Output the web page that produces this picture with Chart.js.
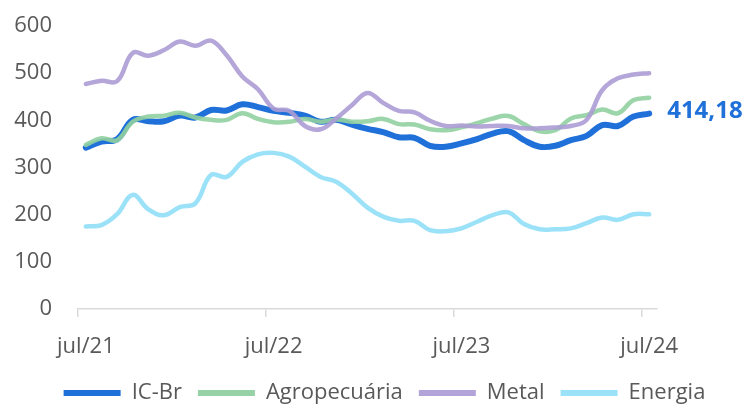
<!DOCTYPE html>
<html>
<head>
<meta charset="utf-8">
<script src="https://cdn.jsdelivr.net/npm/chart.js@4/dist/chart.umd.min.js"></script>
<style>
html,body{margin:0;padding:0;background:#fff;}
#wrap{width:751px;height:406px;position:relative;}
</style>
</head>
<body>
<div id="wrap"><canvas id="c" width="751" height="406"></canvas></div>
<script>
// Monthly categories jul/21 .. jul/24
const months = ['jan','fev','mar','abr','mai','jun','jul','ago','set','out','nov','dez'];
const categories = [];
for (let y = 21; y <= 24; y++) {
  for (let m = 0; m < 12; m++) {
    if ((y === 21 && m < 6) || (y === 24 && m > 6)) continue;
    categories.push(months[m] + '/' + y);
  }
}
const icbr = [342,355,360,401,398,398,410,406,422,421,434,428,420,416,410,397,401,391,382,375,364,363,346,344,351,360,372,377,358,344,346,358,367,390,388,408,414.18];
const agro = [348,362,358,397,408,410,416,406,401,401,415,403,396,397,403,397,402,397,398,403,392,391,381,379,385,394,404,409,392,377,379,404,411,423,415,443,448];
const metal = [477,484,483,543,537,549,567,558,569,538,493,466,425,420,388,381,404,432,458,437,420,417,399,388,389,387,388,388,383,383,385,388,401,464,489,497,500];
const energia = [175,178,201,242,211,199,216,224,284,280,312,328,331,323,302,280,270,245,215,196,187,187,167,165,171,185,199,205,180,169,169,171,182,194,189,201,201];
const yTicks = [0,100,200,300,400,500,600];

const TEXT = '#595959';
const FONT = 'Open Sans';

const lastLabel = {
  id: 'lastLabel',
  afterDatasetsDraw(chart) {
    const ds = chart.data.datasets[0];
    const i = ds.data.length - 1;
    const x = chart.scales.x.getPixelForValue(i);
    const y = chart.scales.y.getPixelForValue(ds.data[i]);
    const ctx = chart.ctx;
    ctx.save();
    ctx.font = 'bold 24px "' + FONT + '"';
    ctx.fillStyle = '#1f70d9';
    ctx.textAlign = 'left';
    ctx.textBaseline = 'middle';
    ctx.fillText(ds.data[i].toFixed(2).replace('.', ','), x + 18, y - 2);
    ctx.restore();
  }
};

// Fix the legend box size and place it where the reference has it
const legendPlace = {
  id: 'legendPlace',
  beforeInit(chart) {
    const lg = chart.legend;
    const orig = lg.fit;
    lg.fit = function () { orig.call(this); this.height = 40; };
  },
  afterLayout(chart) {
    const lg = chart.legend;
    lg.left = 18;
    lg.right = 751;
  }
};

new Chart(document.getElementById('c'), {
  type: 'line',
  data: {
    labels: categories,
    datasets: [
      {label: 'IC-Br', data: icbr, borderColor: '#1f70d9', backgroundColor: '#1f70d9', borderWidth: 6, order: 4, yAxisID: 'y'},
      {label: 'Agropecuária', data: agro, borderColor: 'rgba(145,208,160,0.9)', backgroundColor: 'rgba(150,210,165,1)', borderWidth: 4.5, order: 3, yAxisID: 'y'},
      {label: 'Metal', data: metal, borderColor: 'rgba(172,156,212,0.9)', backgroundColor: 'rgba(178,164,216,1)', borderWidth: 4.5, order: 2, yAxisID: 'y'},
      {label: 'Energia', data: energia, borderColor: 'rgba(150,224,248,0.95)', backgroundColor: 'rgba(155,226,248,1)', borderWidth: 4.5, order: 1, yAxisID: 'y'}
    ]
  },
  options: {
    responsive: false,
    animation: false,
    devicePixelRatio: 1,
    layout: {padding: {left: 0, right: 0, top: 26, bottom: 0}},
    elements: {
      point: {radius: 0, hoverRadius: 0},
      line: {tension: 0.4, borderCapStyle: 'round', borderJoinStyle: 'round'}
    },
    plugins: {
      tooltip: {enabled: false},
      legend: {
        position: 'bottom',
        labels: {
          font: {family: FONT, size: 22},
          color: TEXT,
          boxWidth: 57,
          boxHeight: 6,
          useBorderRadius: true,
          borderRadius: 3,
          padding: 16,
          sort: (a, b) => a.datasetIndex - b.datasetIndex,
          generateLabels(chart) {
            return chart.data.datasets.map((d, i) => ({
              text: d.label,
              fillStyle: d.backgroundColor,
              strokeStyle: d.backgroundColor,
              lineWidth: 0,
              fontColor: TEXT,
              datasetIndex: i,
              hidden: false
            }));
          }
        }
      }
    },
    scales: {
      x: {
        type: 'category',
        offset: true,
        afterFit: (s) => { s.height = 57; },
        grid: {
          display: true,
          offset: true,
          drawOnChartArea: false,
          drawTicks: true,
          tickLength: 8,
          lineWidth: 1.5,
          color: (ctx) => (ctx.type === 'tick' && ctx.index % 12 === 0) ? '#d9d9d9' : 'rgba(0,0,0,0)'
        },
        border: {display: true, color: '#d9d9d9', width: 1.5},
        ticks: {
          autoSkip: false,
          maxRotation: 0,
          padding: 17,
          color: TEXT,
          font: {family: FONT, size: 22},
          callback: (v, i) => (i % 12 === 0 ? categories[i].replace(/^.../, 'jul') : '')
        }
      },
      y: {
        position: 'left',
        min: 0,
        max: 600,
        afterBuildTicks: (s) => { s.ticks = yTicks.map(v => ({value: v})); },
        afterFit: (s) => { s.width = 78; s.paddingTop = 0; s.paddingBottom = 0; },
        grid: {display: false, drawTicks: false},
        border: {display: false},
        ticks: {
          padding: 26,
          color: TEXT,
          font: {family: FONT, size: 22}
        }
      },
      yr: {
        position: 'right',
        display: true,
        afterFit: (s) => { s.width = 94; s.paddingTop = 0; s.paddingBottom = 0; },
        grid: {display: false, drawTicks: false},
        border: {display: false},
        ticks: {display: false}
      }
    }
  },
  plugins: [legendPlace, lastLabel]
});
</script>
</body>
</html>
